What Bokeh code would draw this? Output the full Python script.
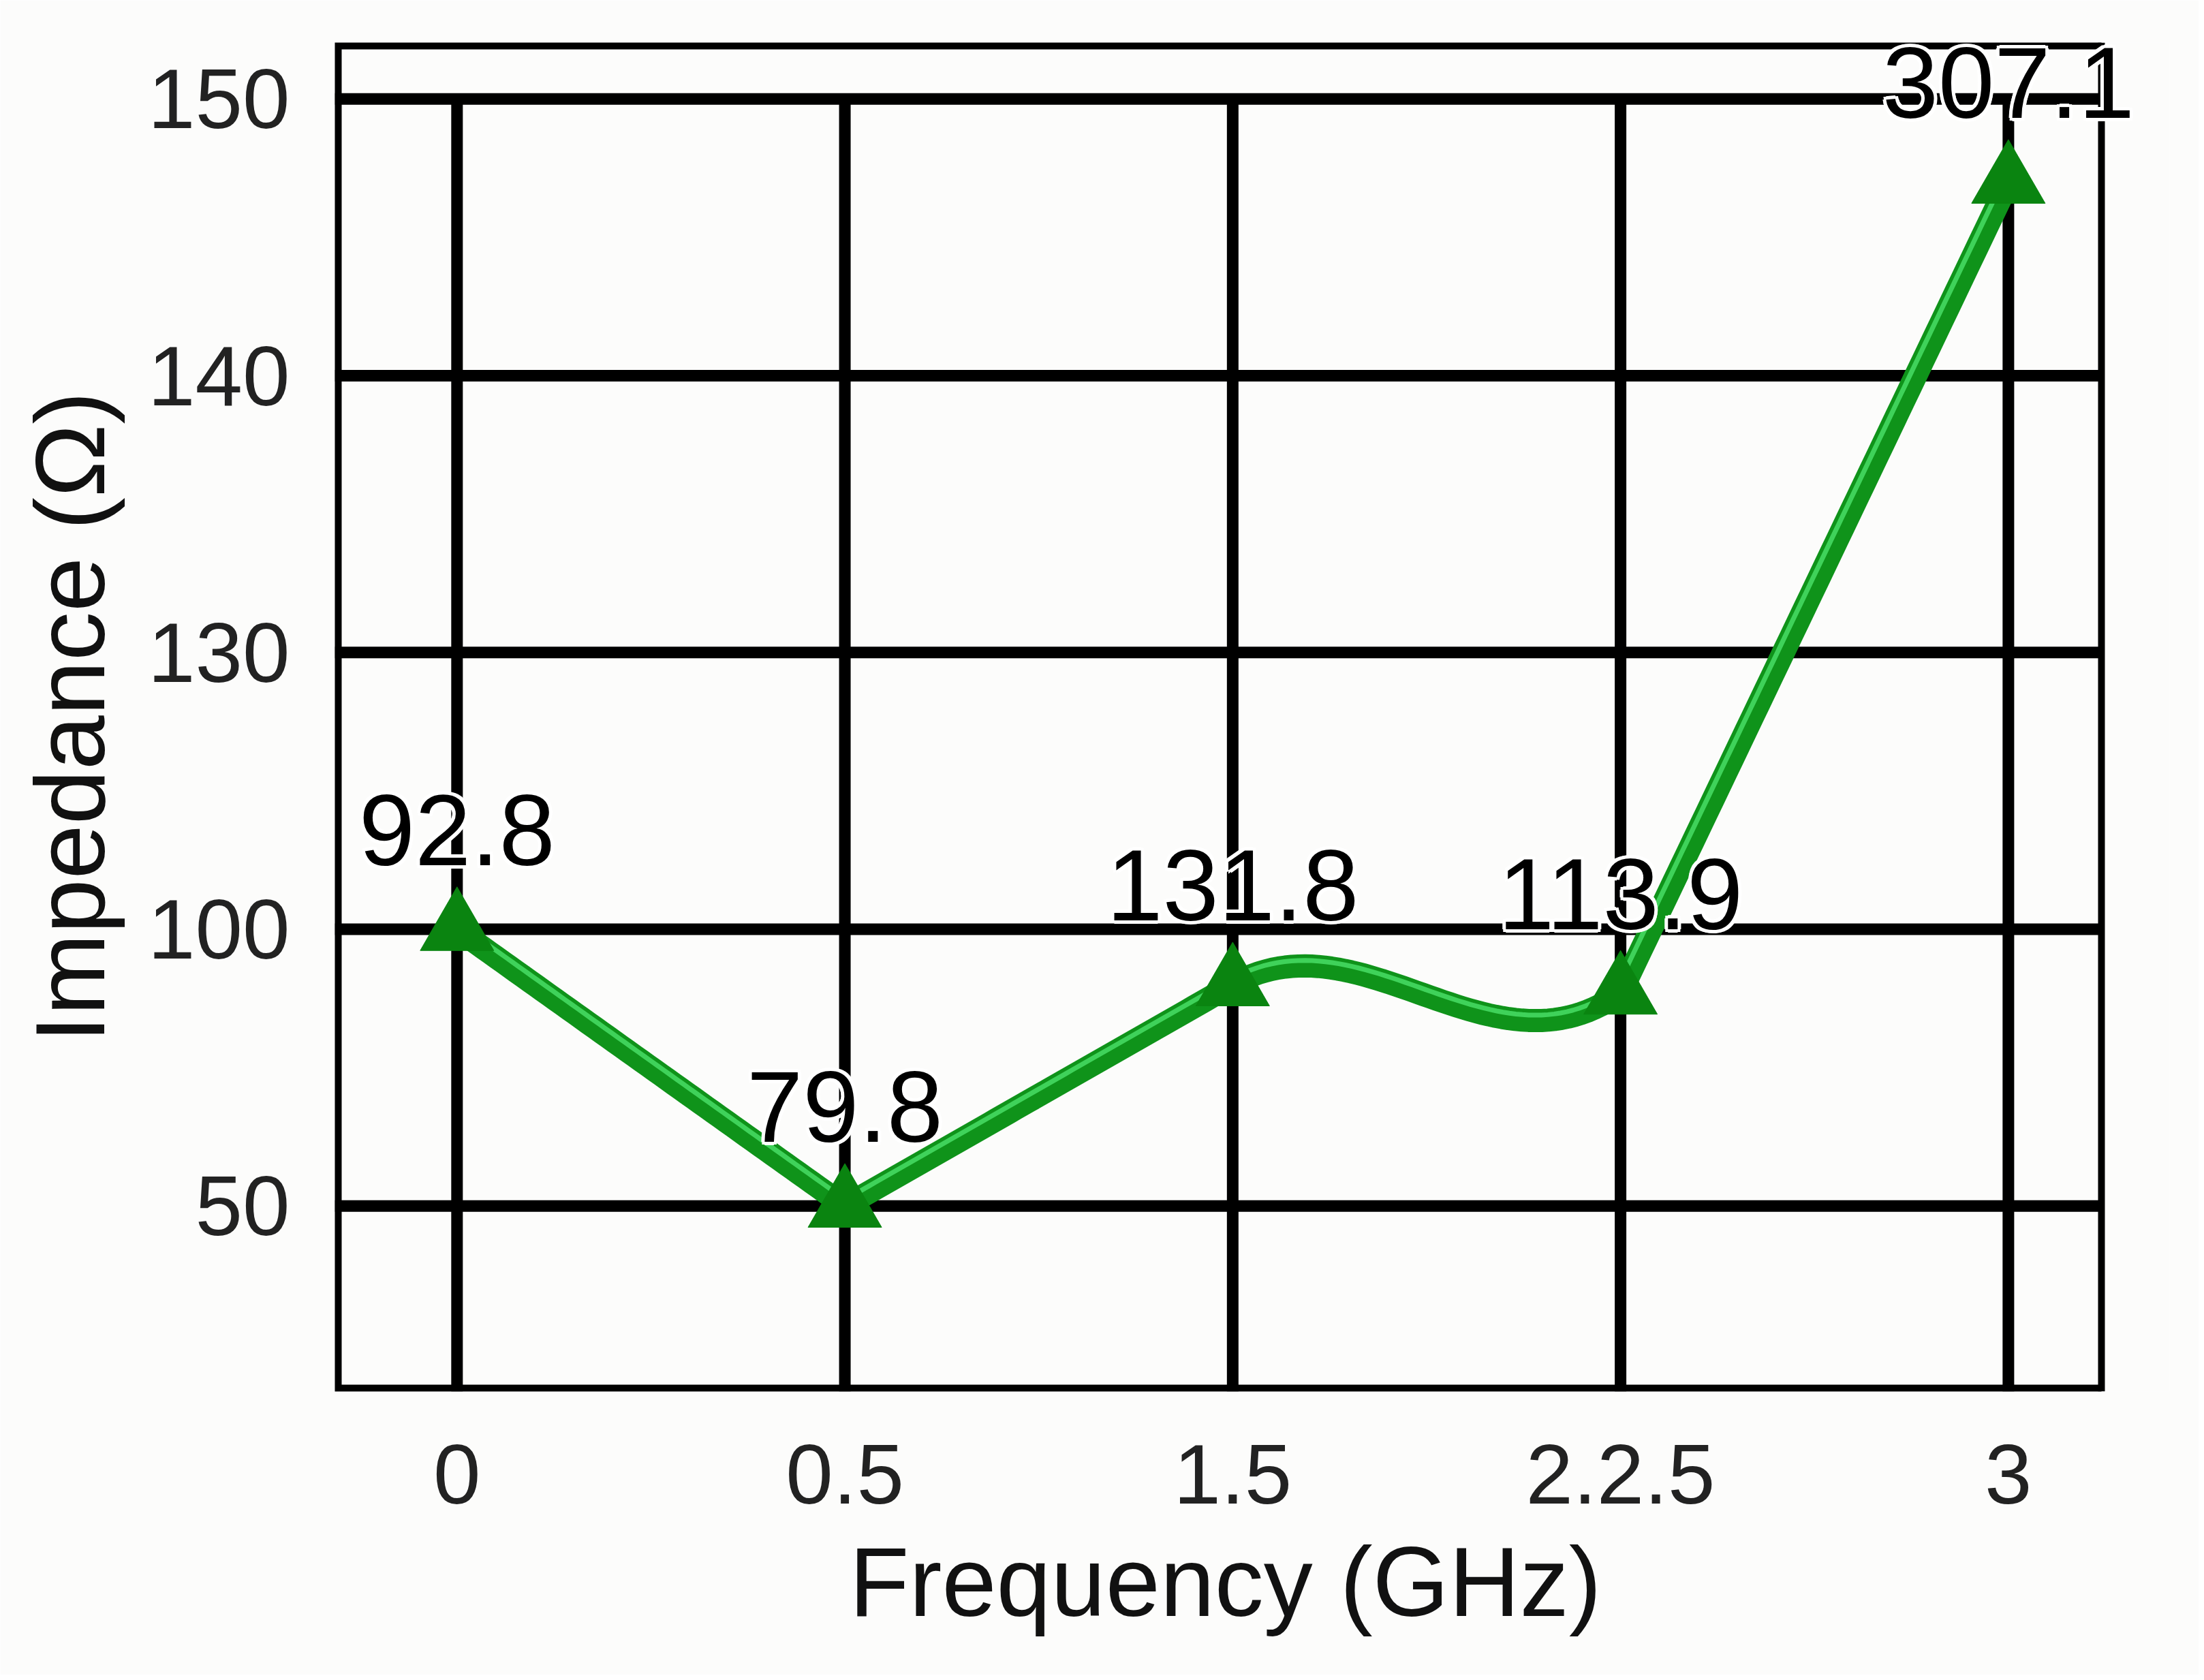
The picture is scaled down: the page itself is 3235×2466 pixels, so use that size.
import numpy as np
from bokeh.plotting import figure
from bokeh.models import Range1d, FixedTicker, ColumnDataSource, LabelSet, Title
from bokeh.core.properties import value
from bokeh.embed import file_html
from bokeh.resources import INLINE

# ---- data ----
freq_labels = ["0", "0.5", "1.5", "2.2.5", "3"]
y_tick_values = [50, 100, 130, 140, 150]
y_tick_labels = ["50", "100", "130", "140", "150"]
impedance_on_axis = [100, 50, 90, 88.5, 147.0]
data_labels = ["92.8", "79.8", "131.8", "113.9", "307.1"]

FONT = "Liberation Sans"

xi = np.arange(len(freq_labels), dtype=float)
tick_pos = list(range(len(y_tick_values)))
yi = np.interp(impedance_on_axis, y_tick_values, tick_pos)

# box of the chart (in axis units) and its size on screen
X0, X1 = -0.315, 4.24
Y0, Y1 = -0.67, 4.204
BW, FH = 2593, 1980
PX_X = BW / (X1 - X0)
PX_Y = FH / (Y1 - Y0)
EXTRA = 100                      # free room right of the box so labels are not clipped
FW = BW + EXTRA
XF = X1 + EXTRA / PX_X


def smooth_path(x, y, n=60, flat=0.2, cap=1.0):
    """Hermite path: steep segments stay straight, nearly flat segments become S-curves."""
    sec = np.diff(y) / np.diff(x)
    xs, ys = [], []
    for i in range(len(sec)):
        m0 = sec[i]
        if abs(m0) < flat and i > 0:
            m0 = sec[i - 1]
        m1 = sec[i]
        if abs(m1) < flat and i + 1 < len(sec):
            m1 = float(np.clip(sec[i + 1], -cap, cap))
        t = np.linspace(0, 1, n)
        h00 = 2 * t**3 - 3 * t**2 + 1
        h10 = t**3 - 2 * t**2 + t
        h01 = -2 * t**3 + 3 * t**2
        h11 = t**3 - t**2
        dx = x[i + 1] - x[i]
        ys.extend(h00 * y[i] + h10 * m0 * dx + h01 * y[i + 1] + h11 * m1 * dx)
        xs.extend(x[i] + t * dx)
    return np.array(xs), np.array(ys)


def offset_path(xs, ys, d):
    """Shift a path by d screen pixels along its upper-left normal."""
    px, py = xs * PX_X, ys * PX_Y
    tx, ty = np.gradient(px), np.gradient(py)
    L = np.hypot(tx, ty)
    L[L == 0] = 1
    nx, ny = -ty / L, tx / L
    return (px + nx * d) / PX_X, (py + ny * d) / PX_Y


lx, ly = smooth_path(xi, yi)
hx, hy = offset_path(lx, ly, 8)

p = figure(
    frame_width=FW, frame_height=FH,
    min_border_left=491, min_border_right=43, min_border_top=62, min_border_bottom=416,
    x_range=Range1d(X0, XF), y_range=Range1d(Y0, Y1),
    output_backend="svg", toolbar_location=None,
    background_fill_color="#fcfcfb", border_fill_color="#fcfcfb",
)
p.xgrid.visible = False
p.ygrid.visible = False
p.outline_line_color = None

# grid lines from tick arrays
top_tick = tick_pos[-1]
p.segment(x0=xi, y0=[Y0] * len(xi), x1=xi, y1=[top_tick] * len(xi), line_color="black", line_width=17)
p.segment(x0=[X0] * len(tick_pos), y0=tick_pos, x1=[X1] * len(tick_pos), y1=tick_pos,
          line_color="black", line_width=17)

# box border (left/top/bottom lie on the frame edge, so they are drawn twice as wide)
p.line([X1, X0, X0, X1], [Y1, Y1, Y0, Y0], line_color="black", line_width=20)
p.line([X1, X1], [Y0, Y1], line_color="black", line_width=10)

# line
p.line(lx, ly, line_color="#0f931a", line_width=34, line_join="round", line_cap="round")
p.line(hx, hy, line_color="#3fd25a", line_width=7, line_join="round", line_cap="round")

src = ColumnDataSource(dict(x=xi, y=yi, lab=data_labels))
p.scatter("x", "y", source=src, marker="triangle", size=108, fill_color="#0a8410", line_color="#0a8410")

# value labels with a white halo
LBL_DY = 94
for dx, dy in [(-5, 0), (5, 0), (0, -5), (0, 5), (-4, -4), (4, -4), (-4, 4), (4, 4)]:
    p.add_layout(LabelSet(x="x", y="y", text="lab", source=src, text_align="center",
                          text_baseline="alphabetic", x_offset=dx, y_offset=LBL_DY + dy,
                          text_font=value(FONT), text_font_size="148px", text_color="white"))
p.add_layout(LabelSet(x="x", y="y", text="lab", source=src, text_align="center", text_baseline="alphabetic",
                      y_offset=LBL_DY, text_font=value(FONT), text_font_size="148px", text_color="black"))

# axes
p.xaxis.ticker = FixedTicker(ticks=list(xi))
p.xaxis.major_label_overrides = {float(i): l for i, l in zip(xi, freq_labels)}
p.yaxis.ticker = FixedTicker(ticks=tick_pos)
p.yaxis.major_label_overrides = {i: l for i, l in zip(tick_pos, y_tick_labels)}

for ax in (p.xaxis[0], p.yaxis[0]):
    ax.axis_line_color = None
    ax.major_tick_line_color = None
    ax.minor_tick_line_color = None
    ax.major_tick_in = 0
    ax.major_tick_out = 0
    ax.major_label_text_font = FONT
    ax.major_label_text_font_size = "125px"
    ax.major_label_text_color = "#222222"
    ax.axis_label_text_font = FONT
    ax.axis_label_text_font_size = "144px"
    ax.axis_label_text_font_style = "normal"
    ax.axis_label_text_color = "#111111"

p.yaxis.axis_label = "Impedance (Ω)"
p.xaxis.major_label_standoff = 78
p.yaxis.major_label_standoff = 66
p.yaxis.axis_label_standoff = 30

# x-axis title, placed under the middle of the box rather than the wider frame
xtitle = Title(text="Frequency (GHz)", align="left", offset=755, standoff=60,
               text_font=FONT, text_font_size="144px", text_font_style="normal", text_color="#111111")
p.add_layout(xtitle, "below")

open("out.html", "w").write(file_html(p, INLINE))
